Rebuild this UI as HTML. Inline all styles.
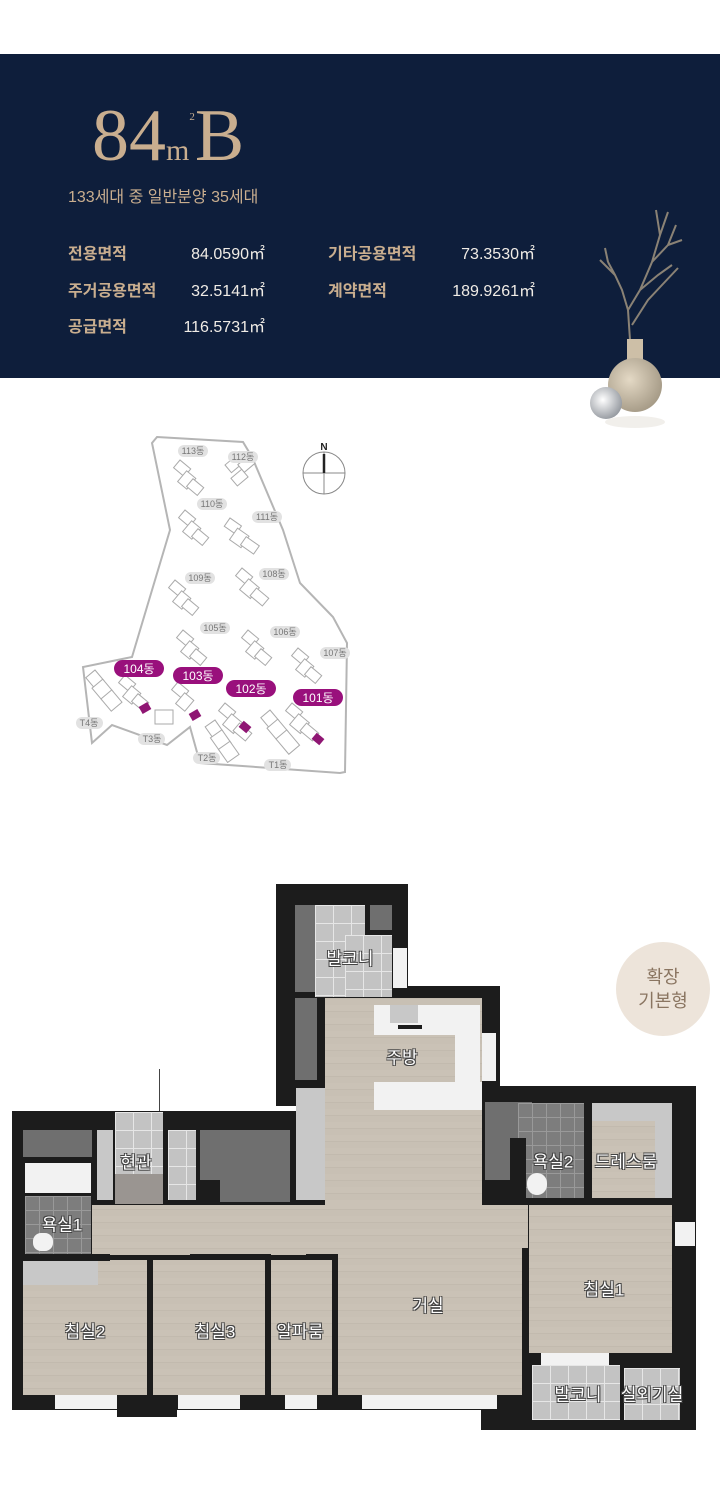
<!DOCTYPE html>
<html><head><meta charset="utf-8">
<style>
*{margin:0;padding:0;box-sizing:border-box}
body{width:720px;height:1500px;background:#fff;position:relative;overflow:hidden;font-family:"Liberation Sans","Noto Sans CJK KR",sans-serif}
.a{position:absolute}
.hd{left:0;top:54px;width:720px;height:324px;background:#0e1e3b}
.t{color:#c9ae8f}
.lb{color:#c9ae8f;font-weight:bold;font-size:16px}
.vl{color:#f0ece6;font-size:16px;text-align:right;width:120px}
.rm{position:absolute;color:#fff;font-size:17px;text-shadow:-1px -1px 0 #444,1px -1px 0 #444,-1px 1px 0 #444,1px 1px 0 #444;white-space:nowrap;transform:translate(-50%,-50%)}
.fl{position:absolute;background:#c9c0b3}
.bk{position:absolute;background:#1c1c1c}
.gy{position:absolute;background:#6f6f6f}
.lg{position:absolute;background:#c8c8c8}
.wh{position:absolute;background:#f2f2f2}
.tile{position:absolute;background-color:#c3c3c3;background-image:linear-gradient(#e6e6e6 1px,transparent 1px),linear-gradient(90deg,#e6e6e6 1px,transparent 1px);background-size:18px 18px}
.dtile{position:absolute;background-color:#7d7d7d;background-image:linear-gradient(#999 1px,transparent 1px),linear-gradient(90deg,#999 1px,transparent 1px);background-size:14px 14px}
.wood{background-color:#c6beb2;background-image:repeating-linear-gradient(0deg,#c8c0b4 0 6px,#c2baae 6px 7px,#cac2b6 7px 13px)}
</style></head><body>
<div class="a hd"></div>
<div class="a t" style="left:92px;top:96px;font-family:'Liberation Serif',serif;font-size:74px;line-height:80px;white-space:nowrap">84<span style="font-size:30px">m</span><span style="font-size:11px;position:relative;top:-40px">2</span>B</div>
<div class="a t" style="left:68px;top:183px;font-size:16px">133세대 중 일반분양 35세대</div>
<div class="a lb" style="left:68px;top:240px">전용면적</div><div class="a vl" style="left:145px;top:240px">84.0590㎡</div>
<div class="a lb" style="left:68px;top:277px">주거공용면적</div><div class="a vl" style="left:145px;top:277px">32.5141㎡</div>
<div class="a lb" style="left:68px;top:313px">공급면적</div><div class="a vl" style="left:145px;top:313px">116.5731㎡</div>
<div class="a lb" style="left:328px;top:240px">기타공용면적</div><div class="a vl" style="left:415px;top:240px">73.3530㎡</div>
<div class="a lb" style="left:328px;top:277px">계약면적</div><div class="a vl" style="left:415px;top:277px">189.9261㎡</div>
<!-- vase -->
<svg class="a" style="left:560px;top:200px" width="160" height="260">
<defs><radialGradient id="v" cx="0.4" cy="0.4" r="0.7"><stop offset="0" stop-color="#e4d9c5"/><stop offset="1" stop-color="#9f9480"/></radialGradient>
<radialGradient id="b" cx="0.4" cy="0.4" r="0.7"><stop offset="0" stop-color="#fff"/><stop offset="1" stop-color="#8a8f96"/></radialGradient></defs>
<g stroke="#8a8275" stroke-width="2" fill="none">
<path d="M70 140 L68 110 L62 90 L55 75 L48 62 M68 110 L80 90 L92 62 L100 35 L96 10 M92 62 L108 45 L116 25 M80 90 L98 75 L112 65 M72 125 L88 100 L102 85 L118 68 M55 75 L40 60 M48 62 L45 48 M100 35 L108 12 M108 45 L122 40"/></g>
<rect x="67" y="139" width="16" height="36" fill="#cdbfa7"/>
<circle cx="75" cy="185" r="27" fill="url(#v)"/>
<ellipse cx="75" cy="222" rx="30" ry="6" fill="#e8e4de" opacity=".6"/>
<circle cx="46" cy="203" r="16" fill="url(#b)"/>
</svg>
<!-- site map -->
<svg class="a" style="left:0;top:420px" width="400" height="370">
<path d="M157 17 L243 22 L252 37 L283 110 L300 163 L333 197 L347 223 L345 352 L340 353 L200 343 L190 307 L167 325 L112 305 L92 323 L83 247 L132 237 L170 110 L152 23 Z" fill="#fff" stroke="#b5b5b5" stroke-width="2"/>
<g fill="#fff" stroke="#aaa" stroke-width="1">
<g transform="translate(180,40) rotate(40)"><rect width="14" height="10"/><rect x="12" y="4" width="12" height="14"/><rect x="22" y="6" width="14" height="10"/></g>
<g transform="translate(225,45) rotate(-40)"><rect width="12" height="10"/><rect x="10" y="8" width="14" height="10"/><rect x="-4" y="14" width="14" height="10"/></g>
<g transform="translate(185,90) rotate(40)"><rect width="14" height="10"/><rect x="12" y="4" width="12" height="14"/><rect x="22" y="6" width="14" height="10"/></g>
<g transform="translate(230,98) rotate(35)"><rect width="14" height="10"/><rect x="12" y="4" width="14" height="14"/><rect x="24" y="6" width="16" height="10"/></g>
<g transform="translate(175,160) rotate(40)"><rect width="14" height="10"/><rect x="12" y="4" width="12" height="14"/><rect x="22" y="6" width="14" height="10"/></g>
<g transform="translate(242,148) rotate(40)"><rect width="14" height="10"/><rect x="12" y="4" width="14" height="14"/><rect x="24" y="6" width="16" height="10"/></g>
<g transform="translate(183,210) rotate(40)"><rect width="14" height="10"/><rect x="12" y="4" width="12" height="14"/><rect x="22" y="6" width="14" height="10"/></g>
<g transform="translate(248,210) rotate(40)"><rect width="14" height="10"/><rect x="12" y="4" width="12" height="14"/><rect x="22" y="6" width="14" height="10"/></g>
<g transform="translate(298,228) rotate(40)"><rect width="14" height="10"/><rect x="12" y="4" width="12" height="14"/><rect x="22" y="6" width="14" height="10"/></g>
<g transform="translate(95,250) rotate(50)"><rect width="14" height="12"/><rect x="12" y="0" width="16" height="14"/><rect x="26" y="0" width="16" height="14"/></g>
<g transform="translate(125,255) rotate(40)"><rect width="14" height="10"/><rect x="12" y="4" width="12" height="14"/><rect x="22" y="6" width="14" height="10"/></g>
<g transform="translate(178,262) rotate(40)"><rect width="14" height="10"/><rect x="12" y="4" width="12" height="14"/></g>
<rect x="155" y="290" width="18" height="14"/>
<g transform="translate(225,283) rotate(40)"><rect width="14" height="10"/><rect x="12" y="4" width="14" height="14"/><rect x="24" y="6" width="16" height="10"/></g>
<g transform="translate(215,300) rotate(55)"><rect width="14" height="12"/><rect x="12" y="0" width="16" height="14"/><rect x="26" y="0" width="16" height="14"/></g>
<g transform="translate(270,290) rotate(50)"><rect width="14" height="12"/><rect x="12" y="0" width="16" height="14"/><rect x="26" y="0" width="20" height="14"/></g>
<g transform="translate(292,283) rotate(40)"><rect width="14" height="10"/><rect x="12" y="4" width="14" height="14"/><rect x="24" y="6" width="16" height="10"/></g>
</g>
<g fill="#8f1673"><rect x="140" y="284" width="10" height="8" transform="rotate(-30 145 288)"/><rect x="190" y="291" width="10" height="8" transform="rotate(-30 195 295)"/><rect x="240" y="303" width="10" height="8" transform="rotate(40 245 307)"/><rect x="313" y="315" width="10" height="8" transform="rotate(40 318 319)"/></g>
<circle cx="324" cy="53" r="21" fill="none" stroke="#888" stroke-width="1"/>
<line x1="303" y1="53" x2="345" y2="53" stroke="#888"/><line x1="324" y1="32" x2="324" y2="74" stroke="#888"/>
<line x1="324" y1="34" x2="324" y2="53" stroke="#222" stroke-width="2.5"/>
<text x="324" y="30" font-size="10" font-weight="bold" text-anchor="middle" fill="#222" font-family="Liberation Sans">N</text>
<g font-size="9" fill="#777" text-anchor="middle" font-family="Liberation Sans,Noto Sans CJK KR,sans-serif">
<rect x="178" y="25" width="30" height="12" rx="6" fill="#e2e2e2"/><text x="193" y="34">113동</text>
<rect x="228" y="31" width="30" height="12" rx="6" fill="#e2e2e2"/><text x="243" y="40">112동</text>
<rect x="197" y="78" width="30" height="12" rx="6" fill="#e2e2e2"/><text x="212" y="87">110동</text>
<rect x="252" y="91" width="30" height="12" rx="6" fill="#e2e2e2"/><text x="267" y="100">111동</text>
<rect x="185" y="152" width="30" height="12" rx="6" fill="#e2e2e2"/><text x="200" y="161">109동</text>
<rect x="259" y="148" width="30" height="12" rx="6" fill="#e2e2e2"/><text x="274" y="157">108동</text>
<rect x="200" y="202" width="30" height="12" rx="6" fill="#e2e2e2"/><text x="215" y="211">105동</text>
<rect x="270" y="206" width="30" height="12" rx="6" fill="#e2e2e2"/><text x="285" y="215">106동</text>
<rect x="320" y="227" width="30" height="12" rx="6" fill="#e2e2e2"/><text x="335" y="236">107동</text>
<rect x="76" y="297" width="27" height="12" rx="6" fill="#e2e2e2"/><text x="89" y="306">T4동</text>
<rect x="138" y="313" width="27" height="12" rx="6" fill="#e2e2e2"/><text x="152" y="322">T3동</text>
<rect x="193" y="332" width="27" height="12" rx="6" fill="#e2e2e2"/><text x="207" y="341">T2동</text>
<rect x="264" y="339" width="27" height="12" rx="6" fill="#e2e2e2"/><text x="278" y="348">T1동</text>
</g>
<g font-size="12" fill="#fff" text-anchor="middle" font-family="Liberation Sans,Noto Sans CJK KR,sans-serif">
<rect x="114" y="240" width="50" height="17" rx="8.5" fill="#99107c"/><text x="139" y="253">104동</text>
<rect x="173" y="247" width="50" height="17" rx="8.5" fill="#99107c"/><text x="198" y="260">103동</text>
<rect x="226" y="260" width="50" height="17" rx="8.5" fill="#99107c"/><text x="251" y="273">102동</text>
<rect x="293" y="269" width="50" height="17" rx="8.5" fill="#99107c"/><text x="318" y="282">101동</text>
</g>
</svg>
<!-- badge -->
<div class="a" style="left:616px;top:942px;width:94px;height:94px;border-radius:50%;background:#ede4da;color:#8a7561;font-size:18px;line-height:24px;text-align:center;padding-top:23px">확장<br>기본형</div>
<!-- floor plan -->
<div class="bk" style="left:276px;top:884px;width:132px;height:220px"></div>
<div class="bk" style="left:276px;top:986px;width:224px;height:120px"></div>
<div class="bk" style="left:481px;top:1086px;width:215px;height:344px"></div>
<div class="bk" style="left:12px;top:1111px;width:520px;height:299px"></div>
<div class="bk" style="left:117px;top:1395px;width:60px;height:22px"></div>
<div class="fl wood" style="left:325px;top:998px;width:157px;height:397px"></div>
<div class="fl wood" style="left:92px;top:1205px;width:436px;height:50px"></div>
<div class="fl wood" style="left:529px;top:1205px;width:143px;height:148px"></div>
<div class="fl wood" style="left:23px;top:1260px;width:124px;height:135px"></div>
<div class="fl wood" style="left:153px;top:1260px;width:112px;height:135px"></div>
<div class="fl wood" style="left:271px;top:1260px;width:61px;height:135px"></div>
<div class="fl wood" style="left:338px;top:1255px;width:184px;height:140px"></div>
<div class="bk" style="left:12px;top:1254px;width:98px;height:7px"></div>
<div class="bk" style="left:147px;top:1255px;width:6px;height:140px"></div>
<div class="bk" style="left:190px;top:1254px;width:80px;height:6px"></div>
<div class="bk" style="left:265px;top:1254px;width:6px;height:141px"></div>
<div class="bk" style="left:306px;top:1254px;width:32px;height:6px"></div>
<div class="bk" style="left:332px;top:1254px;width:6px;height:141px"></div>
<div class="bk" style="left:522px;top:1248px;width:7px;height:160px"></div>
<!-- top tower -->
<div class="tile" style="left:315px;top:905px;width:50px;height:92px"></div>
<div class="tile" style="left:345px;top:935px;width:47px;height:62px"></div>
<div class="gy" style="left:370px;top:905px;width:22px;height:25px"></div>
<div class="gy" style="left:295px;top:905px;width:20px;height:87px"></div>
<div class="gy" style="left:295px;top:998px;width:22px;height:82px"></div>
<div class="wh" style="left:393px;top:948px;width:14px;height:40px"></div>
<div class="wh" style="left:374px;top:1005px;width:106px;height:30px"></div>
<div class="wh" style="left:455px;top:1005px;width:25px;height:105px"></div>
<div class="wh" style="left:374px;top:1082px;width:108px;height:28px"></div>
<div class="lg" style="left:390px;top:1005px;width:28px;height:18px"></div>
<div class="bk" style="left:398px;top:1025px;width:24px;height:4px"></div>
<div class="wh" style="left:482px;top:1033px;width:14px;height:48px"></div>
<div class="lg" style="left:296px;top:1088px;width:29px;height:112px"></div>
<!-- left block -->
<div class="tile" style="left:115px;top:1112px;width:48px;height:62px"></div>
<div class="a" style="left:115px;top:1174px;width:48px;height:30px;background:#9a9591"></div>
<div class="tile" style="left:168px;top:1130px;width:28px;height:70px"></div>
<div class="gy" style="left:200px;top:1130px;width:90px;height:72px"></div>
<div class="bk" style="left:200px;top:1180px;width:20px;height:25px"></div>
<div class="gy" style="left:23px;top:1130px;width:69px;height:27px"></div>
<div class="lg" style="left:97px;top:1130px;width:16px;height:70px"></div>
<div class="wh" style="left:25px;top:1163px;width:66px;height:30px"></div>
<div class="dtile" style="left:25px;top:1196px;width:66px;height:58px"></div>
<div class="wh" style="left:33px;top:1233px;width:20px;height:18px;border-radius:8px"></div>
<div class="lg" style="left:23px;top:1261px;width:75px;height:24px"></div>
<div class="wh" style="left:55px;top:1395px;width:62px;height:14px"></div>
<div class="wh" style="left:178px;top:1395px;width:62px;height:14px"></div>
<div class="wh" style="left:285px;top:1395px;width:32px;height:14px"></div>
<div class="wh" style="left:362px;top:1395px;width:135px;height:14px"></div>
<div class="a" style="left:159px;top:1069px;width:1px;height:42px;background:#444"></div>
<!-- right block -->
<div class="gy" style="left:485px;top:1102px;width:47px;height:78px"></div>
<div class="dtile" style="left:518px;top:1103px;width:66px;height:95px"></div>
<div class="bk" style="left:510px;top:1138px;width:16px;height:62px"></div>
<div class="wh" style="left:527px;top:1173px;width:20px;height:22px;border-radius:10px"></div>
<div class="fl wood" style="left:592px;top:1103px;width:80px;height:95px"></div>
<div class="lg" style="left:592px;top:1103px;width:80px;height:18px"></div>
<div class="lg" style="left:655px;top:1103px;width:17px;height:95px"></div>
<div class="wh" style="left:675px;top:1222px;width:20px;height:24px"></div>
<div class="tile" style="left:532px;top:1365px;width:88px;height:55px"></div>
<div class="tile" style="left:624px;top:1368px;width:56px;height:52px"></div>
<div class="wh" style="left:541px;top:1353px;width:68px;height:12px"></div>
<div class="rm" style="left:350px;top:957px">발코니</div>
<div class="rm" style="left:402px;top:1056px">주방</div>
<div class="rm" style="left:136px;top:1161px">현관</div>
<div class="rm" style="left:62px;top:1223px">욕실1</div>
<div class="rm" style="left:85px;top:1330px">침실2</div>
<div class="rm" style="left:215px;top:1330px">침실3</div>
<div class="rm" style="left:300px;top:1330px">알파룸</div>
<div class="rm" style="left:428px;top:1304px">거실</div>
<div class="rm" style="left:553px;top:1160px">욕실2</div>
<div class="rm" style="left:626px;top:1160px">드레스룸</div>
<div class="rm" style="left:604px;top:1288px">침실1</div>
<div class="rm" style="left:578px;top:1393px">발코니</div>
<div class="rm" style="left:652px;top:1393px">실외기실</div>
</body></html>
